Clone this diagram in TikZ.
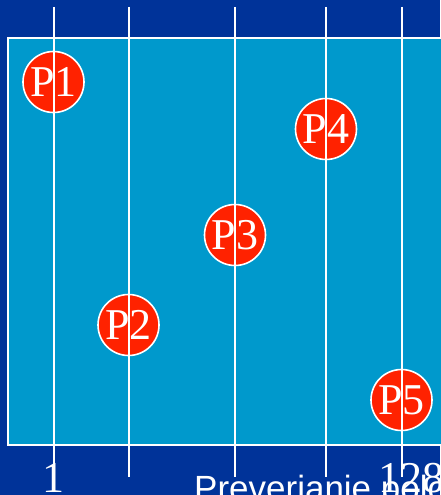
\documentclass[tikz,border=0pt]{standalone}
\usepackage{fontspec}
\setmainfont{Liberation Serif}
\newfontfamily\captionsans{Liberation Sans}
\usetikzlibrary{positioning}
\definecolor{deepnavy}{HTML}{003399}
\definecolor{lakeblue}{HTML}{0099CC}
\definecolor{hotred}{HTML}{FF2200}

\begin{document}
\begin{tikzpicture}[
    x=1pt, y=-1pt,
    probe/.style={
      circle, draw=white, line width=1.6pt, fill=hotred,
      minimum size=61pt, inner sep=0pt,
      font=\fontsize{44}{44}\selectfont, text=white,
    },
    gridline/.style={white, line width=2pt},
    tick/.style={font=\fontsize{44}{44}\selectfont, text=white, anchor=base},
  ]

  % Canvas: 440 x 495, y runs downward
  \fill[deepnavy] (0,0) rectangle (440,495);
  \useasboundingbox (0,0) rectangle (440,495);

  % Field
  \fill[lakeblue] (8,38) rectangle (470,445);
  \draw[white, line width=2pt] (8,38) rectangle (470,445);

  % Probes
  \node[probe] (p1) at (53.5,82) {P1};
  \node[probe] (p2) at (128.5,325) {P2};
  \node[probe] (p3) at (235,235) {P3};
  \node[probe] (p4) at (326,129) {P4};
  \node[probe] (p5) at (401.5,400) {P5};

  % Vertical lines (over the probes)
  \foreach \x in {53.5,128.5,235,326,401.5}
    \draw[gridline] (\x,7) -- (\x,477);

  % Axis labels
  \node[tick] (first) at (53.5,492) {1};
  \node[tick] (last) at (411,492) {128};
  \node[font=\captionsans\fontsize{35}{35}\selectfont, text=white, anchor=base west, inner sep=0pt]
    (caption) at (194,500.5) {Preverianie polohy};

\end{tikzpicture}
\end{document}
